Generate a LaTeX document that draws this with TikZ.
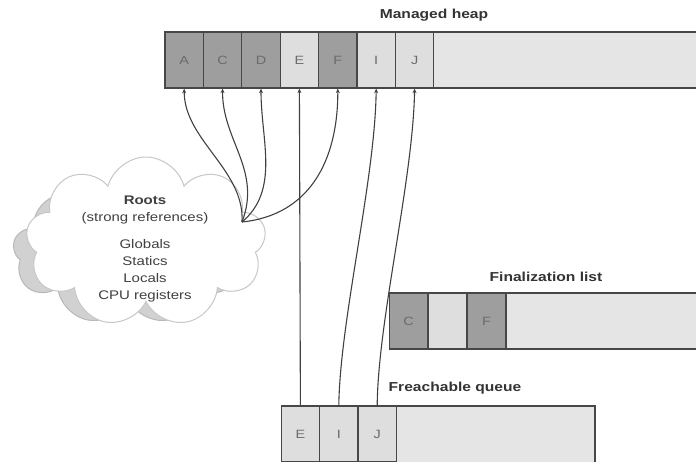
\documentclass[tikz,border=0pt]{standalone}
\usepackage{fontspec}
\setsansfont{Liberation Sans}[FakeStretch=1.2]
\usetikzlibrary{arrows.meta,shapes.symbols}

\begin{document}
\begin{tikzpicture}[
  x=1pt, y=-1pt,
  every node/.style={font=\sffamily},
  cell/.style={
    draw=black!72,
    fill=#1,
    text=black!58,
    line width=1.3pt,
    minimum width=38.4pt,
    minimum height=56pt,
    inner sep=0pt,
    font=\sffamily\fontsize{12}{14}\selectfont
  },
  cell/.default=black!13,
  tail/.style={draw=black!72, fill=black!10, line width=1.3pt},
  title/.style={font=\sffamily\bfseries\fontsize{13}{15}\selectfont, text=black!80},
  puff/.style={cloud, cloud puffs=9, cloud ignores aspect, draw=#1, line width=1pt},
  ref/.style={-{Stealth[length=4.5pt,width=4pt]}, line width=1.1pt, draw=black!75},
]

\useasboundingbox (0,0) rectangle (696,461);

% Managed heap.
\node[title] (heaplabel) at (434,15) {Managed heap};
\draw[tail] (433.8,32) rectangle (700,88);
\foreach \lbl/\tone [count=\i] in {A/black!38, C/black!38, D/black!38, E/black!13, F/black!38, I/black!13, J/black!13}
  \node[cell=\tone] (heap\lbl) at (145.8+38.4*\i,60) {\lbl};

% Finalization list.
\node[title] (finlabel) at (546,277) {Finalization list};
\draw[tail] (506,293) rectangle (700,349);
\node[cell=black!38] (finC) at (408.5,321) {C};
\node[cell] (finblank) at (447.5,321) {};
\node[cell=black!38] (finF) at (486.5,321) {F};

% Freachable queue.
\node[title] (fqlabel) at (455,388) {Freachable queue};
\draw[tail] (396,406) rectangle (595,464);
\foreach \lbl [count=\i] in {E, I, J}
  \node[cell] (fq\lbl) at (262+38.4*\i,434) {\lbl};

% Roots cloud.
\node[puff=black!28, fill=black!18, minimum width=230pt, minimum height=145pt] (shadow) at (128,252) {};
\node[puff=black!22, fill=white, minimum width=240pt, minimum height=170pt] (cloud) at (146,242) {};
\node[align=center, text=black!75, font=\sffamily\fontsize{12.5}{17}\selectfont] (roots) at (145,249)
  {\textbf{Roots}\\(strong references)\\[10pt]Globals\\Statics\\Locals\\CPU registers};
\coordinate (rootsout) at (242,222);

\draw[ref] (rootsout) .. controls (245,170) and (184,140) .. (heapA.south);
\draw[ref] (rootsout) .. controls (262,170) and (222,140) .. (heapC.south);
\draw[ref] (rootsout) .. controls (280,190) and (261,140) .. (heapD.south);
\draw[ref] (rootsout) .. controls (310,215) and (338,160) .. (heapF.south);

% Freachable queue back to the heap.
\draw[ref] (fqE.north) -- (heapE.south);
\draw[ref] (fqI.north) .. controls (340,320) and (375,180) .. (heapI.south);
\draw[ref] (fqJ.north) .. controls (378,320) and (413,180) .. (heapJ.south);

\end{tikzpicture}
\end{document}
